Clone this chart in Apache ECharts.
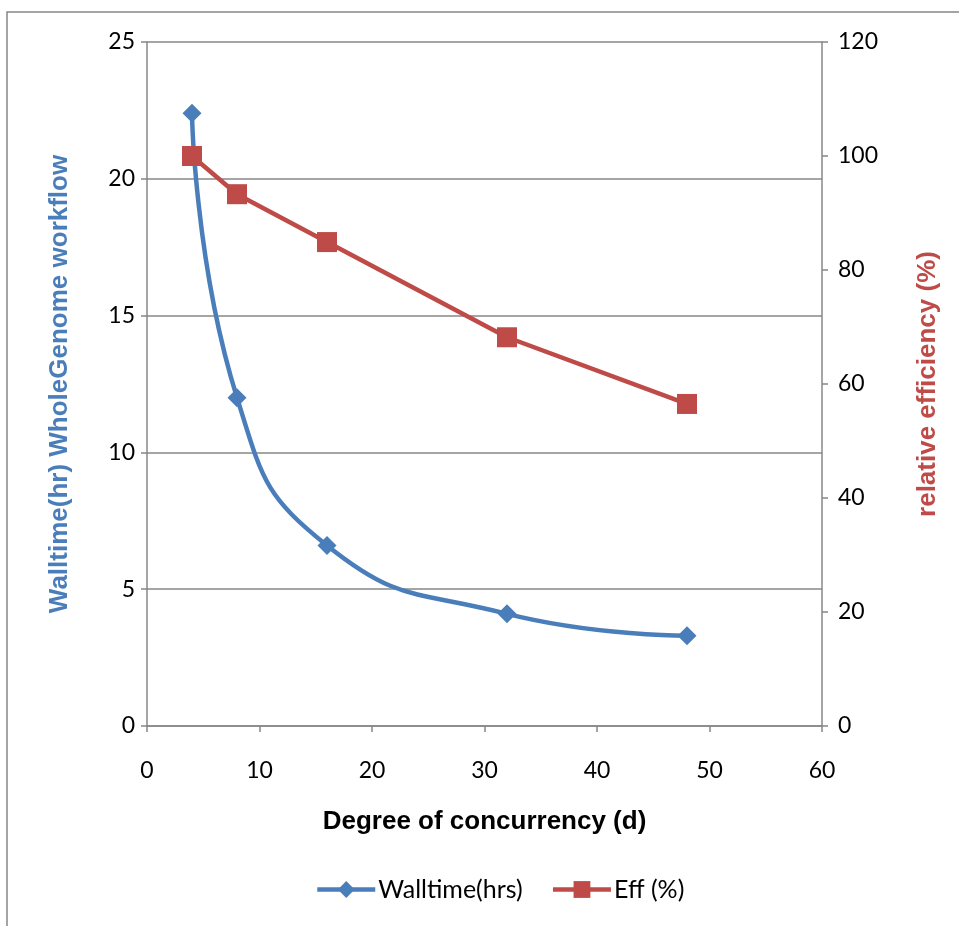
<!DOCTYPE html>
<html>
<head>
<meta charset="utf-8">
<script src="https://cdn.jsdelivr.net/npm/echarts@6/dist/echarts.min.js"></script>
<style>
  html, body { margin: 0; padding: 0; background: #fff; }
  #chart { width: 959px; height: 926px; }
</style>
</head>
<body>
<div id="chart"></div>
<script>
// Degree of concurrency and the measured results
const concurrency = [4, 8, 16, 32, 48];
const walltimeHrs = [22.4, 12.0, 6.6, 4.1, 3.3];
const efficiencyPct = [100, 93.3, 84.9, 68.2, 56.5];

const blue = '#4a7ebb';
const red = '#be4b48';
const axisGray = '#878787';
const titleFont = '"Liberation Sans", Arial, sans-serif';
const labelFont = 'Lato, "Open Sans", sans-serif';

const pairs = (xs, ys) => xs.map((x, i) => [x, ys[i]]);

const chart = echarts.init(document.getElementById('chart'), null, { renderer: 'canvas' });
chart.setOption({
  backgroundColor: '#fff',
  animation: false,
  graphic: [{
    type: 'rect',
    shape: { x: 7, y: 12, width: 1000, height: 1000 },
    style: { fill: 'none', stroke: axisGray, lineWidth: 1.5 },
    silent: true
  }],
  grid: { left: 147, right: 137, top: 42, bottom: 200 },
  legend: {
    bottom: 19,
    left: 310,
    itemWidth: 58,
    itemHeight: 21,
    itemGap: 28,
    lineStyle: { width: 4.5 },
    textStyle: { fontFamily: labelFont, fontSize: 25, color: '#000', padding: [0, 0, 0, -2] },
    data: ['Walltime(hrs)', 'Eff (%)']
  },
  xAxis: {
    type: 'value',
    min: 0, max: 60, interval: 10,
    name: 'Degree of concurrency (d)',
    nameLocation: 'middle',
    nameGap: 83,
    nameTextStyle: { fontFamily: titleFont, fontSize: 26, fontWeight: 'bold', color: '#000' },
    axisLine: { show: true, lineStyle: { color: axisGray, width: 1.5 } },
    axisTick: { show: true, inside: false, length: 6, lineStyle: { color: axisGray, width: 1.5 } },
    axisLabel: { fontFamily: labelFont, fontSize: 23, color: '#000', margin: 33 },
    splitLine: { show: false }
  },
  yAxis: [{
    type: 'value',
    min: 0, max: 25, interval: 5,
    position: 'left',
    name: 'Walltime(hr) WholeGenome workflow',
    nameLocation: 'middle',
    nameRotate: 90,
    nameGap: 74,
    nameTextStyle: { fontFamily: titleFont, fontSize: 26, fontWeight: 'bold', color: blue },
    axisLine: { show: true, lineStyle: { color: axisGray, width: 1.5 } },
    axisTick: { show: true, inside: false, length: 6, lineStyle: { color: axisGray, width: 1.5 } },
    axisLabel: { fontFamily: labelFont, fontSize: 23, color: '#000', margin: 12 },
    splitLine: { show: true, lineStyle: { color: axisGray, width: 1.5 } }
  }, {
    type: 'value',
    min: 0, max: 120, interval: 20,
    position: 'right',
    name: 'relative efficiency (%)',
    nameLocation: 'middle',
    nameRotate: 90,
    nameGap: 93,
    nameTextStyle: { fontFamily: titleFont, fontSize: 26, fontWeight: 'bold', color: red },
    axisLine: { show: true, lineStyle: { color: axisGray, width: 1.5 } },
    axisTick: { show: true, inside: false, length: 6, lineStyle: { color: axisGray, width: 1.5 } },
    axisLabel: { fontFamily: labelFont, fontSize: 23, color: '#000', margin: 16 },
    splitLine: { show: false }
  }],
  series: [{
    name: 'Walltime(hrs)',
    type: 'line',
    yAxisIndex: 0,
    data: pairs(concurrency, walltimeHrs),
    smooth: 0.5,
    symbol: 'diamond',
    symbolSize: 19,
    lineStyle: { color: blue, width: 4.5 },
    itemStyle: { color: blue },
    z: 3
  }, {
    name: 'Eff (%)',
    type: 'line',
    yAxisIndex: 1,
    data: pairs(concurrency, efficiencyPct),
    smooth: false,
    symbol: 'rect',
    symbolSize: 20,
    lineStyle: { color: red, width: 4.5 },
    itemStyle: { color: red },
    z: 4
  }]
});
</script>
</body>
</html>
